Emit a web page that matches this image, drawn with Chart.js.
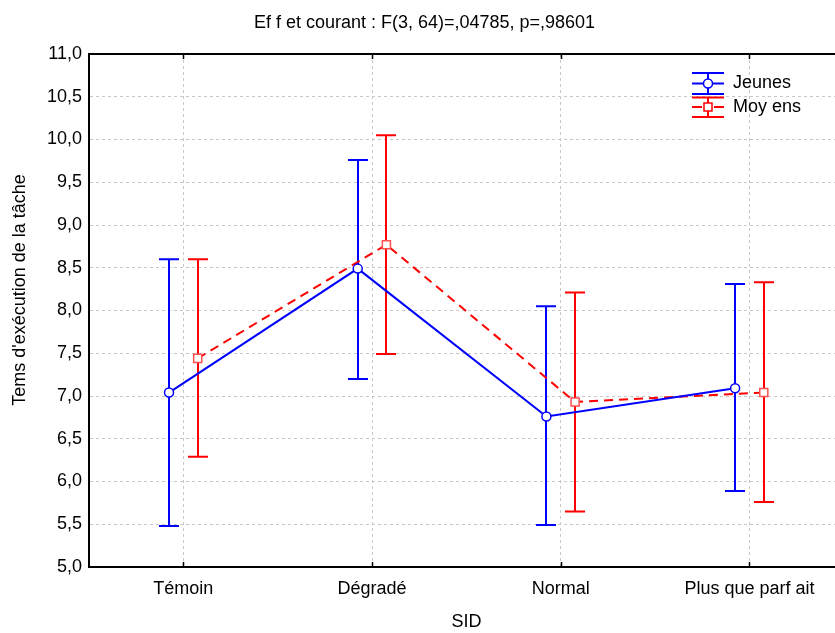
<!DOCTYPE html>
<html><head><meta charset="utf-8">
<script src="https://cdn.jsdelivr.net/npm/chart.js@4"></script>
<style>
html,body{margin:0;padding:0;overflow:hidden;background:#fff;width:835px;height:633px}
#wrap{position:absolute;left:0;top:0;width:851px;height:633px}
</style></head>
<body><div id="wrap"><canvas id="c" width="851" height="633"></canvas></div>
<script>
const chartTitle = 'Ef f et courant : F(3, 64)=,04785, p=,98601';
const xTitle = 'SID';
const yTitle = "Tems d'exécution de la tâche";
const categories = ['Témoin', 'Dégradé', 'Normal', 'Plus que parf ait'];
const seriesNames = ['Jeunes', 'Moy ens'];
const jeunesMean = [7.04, 8.49, 6.76, 7.09];
const jeunesLow  = [5.48, 7.20, 5.49, 5.89];
const jeunesHigh = [8.60, 9.76, 8.05, 8.31];
const moyensMean = [7.44, 8.77, 6.93, 7.04];
const moyensLow  = [6.29, 7.49, 5.65, 5.76];
const moyensHigh = [8.60, 10.05, 8.21, 8.33];
const yTicks = [5.0, 5.5, 6.0, 6.5, 7.0, 7.5, 8.0, 8.5, 9.0, 9.5, 10.0, 10.5, 11.0];

const BLUE = '#0000ff', RED = '#ff0000';
const SHIFT = 0.076;
const FONT = 'Liberation Sans, Arial, sans-serif';

function pts(vals, dx) { return vals.map((v, i) => ({x: i + dx, y: v})); }

const errorBars = [
  {low: jeunesLow, high: jeunesHigh, dx: -SHIFT, color: BLUE},
  {low: moyensLow, high: moyensHigh, dx: SHIFT, color: RED}
];

const errPlugin = {
  id: 'errbars',
  beforeDatasetsDraw(chart) {
    const {ctx, scales: {x, y}} = chart;
    ctx.save();
    ctx.lineWidth = 2;
    errorBars.forEach(eb => {
      ctx.strokeStyle = eb.color;
      eb.low.forEach((lo, i) => {
        const px = Math.round(x.getPixelForValue(i + eb.dx));
        const yl = y.getPixelForValue(lo), yh = y.getPixelForValue(eb.high[i]);
        ctx.beginPath();
        ctx.moveTo(px, yl); ctx.lineTo(px, yh);
        ctx.moveTo(px - 10, yl); ctx.lineTo(px + 10, yl);
        ctx.moveTo(px - 10, yh); ctx.lineTo(px + 10, yh);
        ctx.stroke();
      });
    });
    ctx.restore();
  },
  afterDraw(chart) {
    const {ctx, chartArea: a, scales: {x, y}} = chart;
    ctx.save();
    // frame top
    ctx.strokeStyle = '#000';
    ctx.lineWidth = 2;
    ctx.beginPath();
    ctx.moveTo(a.left - 1, a.top); ctx.lineTo(a.right, a.top);
    ctx.stroke();
    // inward ticks
    ctx.lineWidth = 1.5;
    categories.forEach((c, i) => {
      const px = Math.round(x.getPixelForValue(i)) + 0.5;
      ctx.beginPath();
      ctx.moveTo(px, a.bottom); ctx.lineTo(px, a.bottom - 5);
      ctx.moveTo(px, a.top); ctx.lineTo(px, a.top + 5);
      ctx.stroke();
    });
    // y title
    ctx.fillStyle = '#000';
    ctx.font = '18px ' + FONT;
    ctx.textAlign = 'center';
    ctx.textBaseline = 'middle';
    ctx.translate(20, 290);
    ctx.rotate(-Math.PI / 2);
    ctx.fillText(yTitle, 0, 0);
    ctx.restore();

    // legend
    ctx.save();
    const lx = 708, x0 = 692, x1 = 724;
    const rows = [
      {y: 83.5, top: 73, bot: 94, color: BLUE, dash: [], label: seriesNames[0], style: 'circle'},
      {y: 107, top: 97.5, bot: 117, color: RED, dash: [10, 12], label: seriesNames[1], style: 'rect'}
    ];
    rows.forEach(r => {
      ctx.strokeStyle = r.color;
      ctx.lineWidth = 2;
      ctx.setLineDash([]);
      ctx.beginPath();
      ctx.moveTo(x0, r.top); ctx.lineTo(x1, r.top);
      ctx.moveTo(x0, r.bot); ctx.lineTo(x1, r.bot);
      ctx.moveTo(lx, r.top); ctx.lineTo(lx, r.bot);
      ctx.stroke();
      ctx.setLineDash(r.dash);
      ctx.beginPath();
      ctx.moveTo(x0, r.y); ctx.lineTo(x1, r.y);
      ctx.stroke();
      ctx.setLineDash([]);
      ctx.fillStyle = '#fff';
      ctx.lineWidth = 1.5;
      ctx.beginPath();
      if (r.style === 'circle') ctx.arc(lx, r.y, 4.5, 0, Math.PI * 2);
      else ctx.rect(lx - 4, r.y - 4, 8, 8);
      ctx.fill(); ctx.stroke();
      ctx.fillStyle = '#000';
      ctx.font = '18px ' + FONT;
      ctx.textAlign = 'left';
      ctx.textBaseline = 'middle';
      ctx.fillText(r.label, 733, r.y);
    });
    ctx.restore();
  }
};

new Chart(document.getElementById('c'), {
  type: 'line',
  data: {
    datasets: [
      {
        label: seriesNames[0],
        data: pts(jeunesMean, -SHIFT),
        borderColor: BLUE, borderWidth: 2,
        pointStyle: 'circle', pointRadius: 4.5, pointBorderWidth: 1.5,
        pointBackgroundColor: '#fff', pointBorderColor: BLUE,
        tension: 0, fill: false
      },
      {
        label: seriesNames[1],
        data: pts(moyensMean, SHIFT),
        borderColor: RED, borderWidth: 2, borderDash: [9, 6],
        pointStyle: 'rect', pointRadius: 5.7, pointBorderWidth: 1.5,
        pointBackgroundColor: '#fff', pointBorderColor: '#ff5050',
        tension: 0, fill: false
      }
    ]
  },
  options: {
    responsive: false,
    animation: false,
    devicePixelRatio: 1,
    layout: {padding: {left: 0, right: 2, top: 0, bottom: 0}},
    plugins: {
      legend: {display: false},
      tooltip: {enabled: false},
      title: {
        display: true, text: chartTitle, color: '#000',
        font: {family: FONT, size: 18, weight: 'normal'},
        padding: {top: 12, bottom: 20.4}
      }
    },
    scales: {
      x: {
        type: 'linear', min: -0.5, max: 3.5,
        afterBuildTicks: s => { s.ticks = categories.map((c, i) => ({value: i})); },
        afterFit: s => { s.height = 66; },
        ticks: {
          callback: v => categories[v],
          color: '#000', font: {family: FONT, size: 18}, padding: 11, maxRotation: 0, autoSkip: false
        },
        grid: {color: '#c8c8c8', lineWidth: 1, drawTicks: false},
        border: {display: true, color: '#000', width: 2, dash: [3, 3]},
        title: {display: true, text: xTitle, color: '#000', font: {family: FONT, size: 18}, padding: {top: 0, bottom: 0}}
      },
      y: {
        type: 'linear', min: 5, max: 11,
        afterBuildTicks: s => { s.ticks = yTicks.map(v => ({value: v})); },
        afterFit: s => { s.width = 89; },
        ticks: {
          callback: v => v.toFixed(1).replace('.', ','),
          color: '#000', font: {family: FONT, size: 18}, padding: 7
        },
        grid: {color: '#c8c8c8', lineWidth: 1, drawTicks: false},
        border: {display: true, color: '#000', width: 2, dash: [3, 3]}
      }
    }
  },
  plugins: [errPlugin]
});
</script>
</body></html>
